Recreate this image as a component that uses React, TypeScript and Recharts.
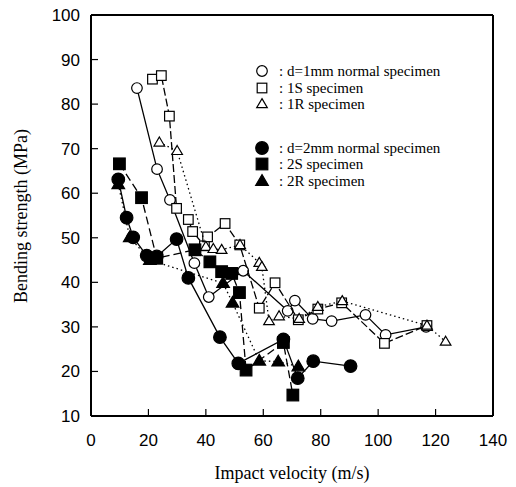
import { ScatterChart, Scatter, XAxis, YAxis, Legend, Label } from 'recharts'

// values, [impact velocity (m/s), bending strength (MPa)]
const d1Normal = [
    [16, 83.6], [23, 65.4], [27.5, 58.5], [36, 44.3], [41, 36.7], [53, 42.6], [68.5, 33.6],
    [71, 35.9], [77.2, 31.8], [83.8, 31.3], [95.6, 32.7], [102.6, 28.2], [116.7, 30],
]
const d1S = [
    [21.4, 85.6], [24.5, 86.4], [27.3, 77.3], [29.8, 56.6], [33.9, 54.1], [35.4, 51.4], [39.5, 48.2],
    [40.6, 50.2], [46.7, 53.2], [51.8, 48.4], [58.6, 34.2], [64.1, 39.9], [72.2, 31.6], [79, 34],
    [87.3, 35.4], [102.2, 26.3], [117, 30.3],
]
const d1R = [
    [23.8, 71.4], [30, 69.5], [40, 48], [42.6, 47.5], [45.5, 47.3], [51.9, 48.4], [58.6, 44.4],
    [59.5, 43.5], [62, 31.3], [65.5, 32.4], [72.5, 31.8], [79, 34.5], [87.5, 35.8], [117, 30.3],
    [123.5, 26.7],
]
const d2Normal = [
    [9.5, 63.1], [12.4, 54.5], [14.7, 50.1], [19.4, 46], [22.9, 45.8], [29.8, 49.7], [33.9, 41],
    [44.9, 27.7], [51.3, 21.8], [67, 27.2], [72, 18.5], [77.4, 22.3], [90.4, 21.2],
]
const d2S = [
    [9.9, 66.6], [17.6, 59], [22.9, 45.4], [36.2, 47.3], [41.4, 44.6], [45.5, 42.4], [49, 42],
    [51.7, 37.7], [54, 20.3], [67, 26.5], [70.3, 14.7],
]
const d2R = [
    [9.5, 62], [13.5, 50.1], [20.5, 45], [46, 39.8], [49.3, 35.4], [58.6, 22.4], [65.2, 22.2],
    [72.2, 21.1],
]

const xTicks = [0, 20, 40, 60, 80, 100, 120, 140]
const yTicks = [10, 20, 30, 40, 50, 60, 70, 80, 90, 100]

const legendLabels = [
    'd=1mm normal specimen',
    '1S specimen',
    '1R specimen',
    'd=2mm normal specimen',
    '2S specimen',
    '2R specimen',
]

const toPoints = (arr: number[][]) => arr.map(([x, y]) => ({ x, y }))

type MarkerKind = 'circle' | 'square' | 'triangle'

const Marker = ({ kind, filled, cx, cy }: { kind: MarkerKind; filled: boolean; cx: number; cy: number }) => {
    const fill = filled ? '#000' : '#fff'
    const s = filled ? 6.3 : 5.3
    if (kind === 'circle') {
        return <circle cx={cx} cy={cy} r={s} fill={fill} stroke="#000" strokeWidth={1.2} />
    }
    if (kind === 'square') {
        return <rect x={cx - s + 0.5} y={cy - s + 0.5} width={2 * s - 1} height={2 * s - 1} fill={fill} stroke="#000" strokeWidth={1.2} />
    }
    const h = s * 1.7
    return (
        <polygon
            points={`${cx},${cy - h * 0.6} ${cx + s},${cy + h * 0.4} ${cx - s},${cy + h * 0.4}`}
            fill={fill}
            stroke="#000"
            strokeWidth={1.2}
        />
    )
}

const series = [
    { name: legendLabels[0], data: d1Normal, kind: 'circle' as MarkerKind, filled: false, dash: undefined },
    { name: legendLabels[1], data: d1S, kind: 'square' as MarkerKind, filled: false, dash: '8 3' },
    { name: legendLabels[2], data: d1R, kind: 'triangle' as MarkerKind, filled: false, dash: '1.5 3' },
    { name: legendLabels[3], data: d2Normal, kind: 'circle' as MarkerKind, filled: true, dash: undefined },
    { name: legendLabels[4], data: d2S, kind: 'square' as MarkerKind, filled: true, dash: '8 4' },
    { name: legendLabels[5], data: d2R, kind: 'triangle' as MarkerKind, filled: true, dash: '1.5 3' },
]

const tickFont = { fontFamily: '"Liberation Sans", Arial, sans-serif', fontSize: 17, fill: '#000' }
const serif = '"Liberation Serif", "Times New Roman", serif'

const BottomTick = ({ x, y, payload }: any) => (
    <g>
        <line x1={x} y1={y} x2={x} y2={y - 7} stroke="#000" strokeWidth={1.2} />
        <text x={x} y={y + 30} textAnchor="middle" {...tickFont}>{payload.value}</text>
    </g>
)
const LeftTick = ({ x, y, payload }: any) => (
    <g>
        <line x1={x} y1={y} x2={x + 7} y2={y} stroke="#000" strokeWidth={1.2} />
        <text x={x - 11} y={y + 6} textAnchor="end" {...tickFont}>{payload.value}</text>
    </g>
)
const TopTick = ({ x, y }: any) => <line x1={x} y1={y} x2={x} y2={y + 7} stroke="#000" strokeWidth={1.2} />
const RightTick = ({ x, y }: any) => <line x1={x} y1={y} x2={x - 7} y2={y} stroke="#000" strokeWidth={1.2} />

const YTitle = () => (
    <text x={27} y={216} transform="rotate(-90 27 216)" textAnchor="middle" fontFamily={serif} fontSize={18} fill="#000">
        Bending strength (MPa)
    </text>
)
const XTitle = () => (
    <text x={292} y={479} textAnchor="middle" fontFamily={serif} fontSize={18} fill="#000">
        Impact velocity (m/s)
    </text>
)

const LegendBox = () => (
    <div style={{ fontFamily: serif, fontSize: 15, color: '#000', lineHeight: '16.5px' }}>
        {series.map((s, i) => (
            <div key={s.name} style={{ display: 'flex', alignItems: 'center', marginTop: i === 3 ? 27 : 0 }}>
                <svg width={18} height={16}>
                    <Marker kind={s.kind} filled={s.filled} cx={9} cy={8} />
                </svg>
                <span style={{ marginLeft: 8, whiteSpace: 'nowrap' }}>: {s.name}</span>
            </div>
        ))}
    </div>
)

export default function App() {
    return (
        <div style={{ position: 'absolute', left: 0, top: 0, background: '#fff' }}>
            <ScatterChart width={516} height={487} margin={{ top: 0, right: 0, bottom: 0, left: 0 }}>
                <XAxis
                    dataKey="x"
                    type="number"
                    domain={[0, 140]}
                    ticks={xTicks}
                    height={71}
                    tickSize={0}
                    tickMargin={0}
                    tick={<BottomTick />}
                    axisLine={{ stroke: '#000', strokeWidth: 2 }}
                    label={<XTitle />}
                />
                <XAxis
                    xAxisId="top"
                    orientation="top"
                    type="number"
                    domain={[0, 140]}
                    ticks={xTicks}
                    height={15}
                    tickSize={0}
                    tickMargin={0}
                    tick={<TopTick />}
                    axisLine={{ stroke: '#000', strokeWidth: 2 }}
                />
                <YAxis
                    dataKey="y"
                    type="number"
                    domain={[10, 100]}
                    ticks={yTicks}
                    width={91}
                    tickSize={0}
                    tickMargin={0}
                    tick={<LeftTick />}
                    axisLine={{ stroke: '#000', strokeWidth: 2 }}
                    label={<YTitle />}
                />
                <YAxis
                    yAxisId="right"
                    orientation="right"
                    type="number"
                    domain={[10, 100]}
                    ticks={yTicks}
                    width={23}
                    tickSize={0}
                    tickMargin={0}
                    tick={<RightTick />}
                    axisLine={{ stroke: '#000', strokeWidth: 2 }}
                />
                <Legend
                    layout="vertical"
                    align="center"
                    verticalAlign="middle"
                    wrapperStyle={{ left: 253, top: 63, width: 240 }}
                    content={() => <LegendBox />}
                />
                {series.map((s) => (
                    <Scatter
                        key={s.name}
                        name={s.name}
                        data={toPoints(s.data)}
                        line={{ stroke: '#000', strokeWidth: 1.3, strokeDasharray: s.dash }}
                        lineType="joint"
                        isAnimationActive={false}
                        shape={(p: any) => <Marker kind={s.kind} filled={s.filled} cx={p.cx} cy={p.cy} />}
                    />
                ))}
            </ScatterChart>
        </div>
    )
}
